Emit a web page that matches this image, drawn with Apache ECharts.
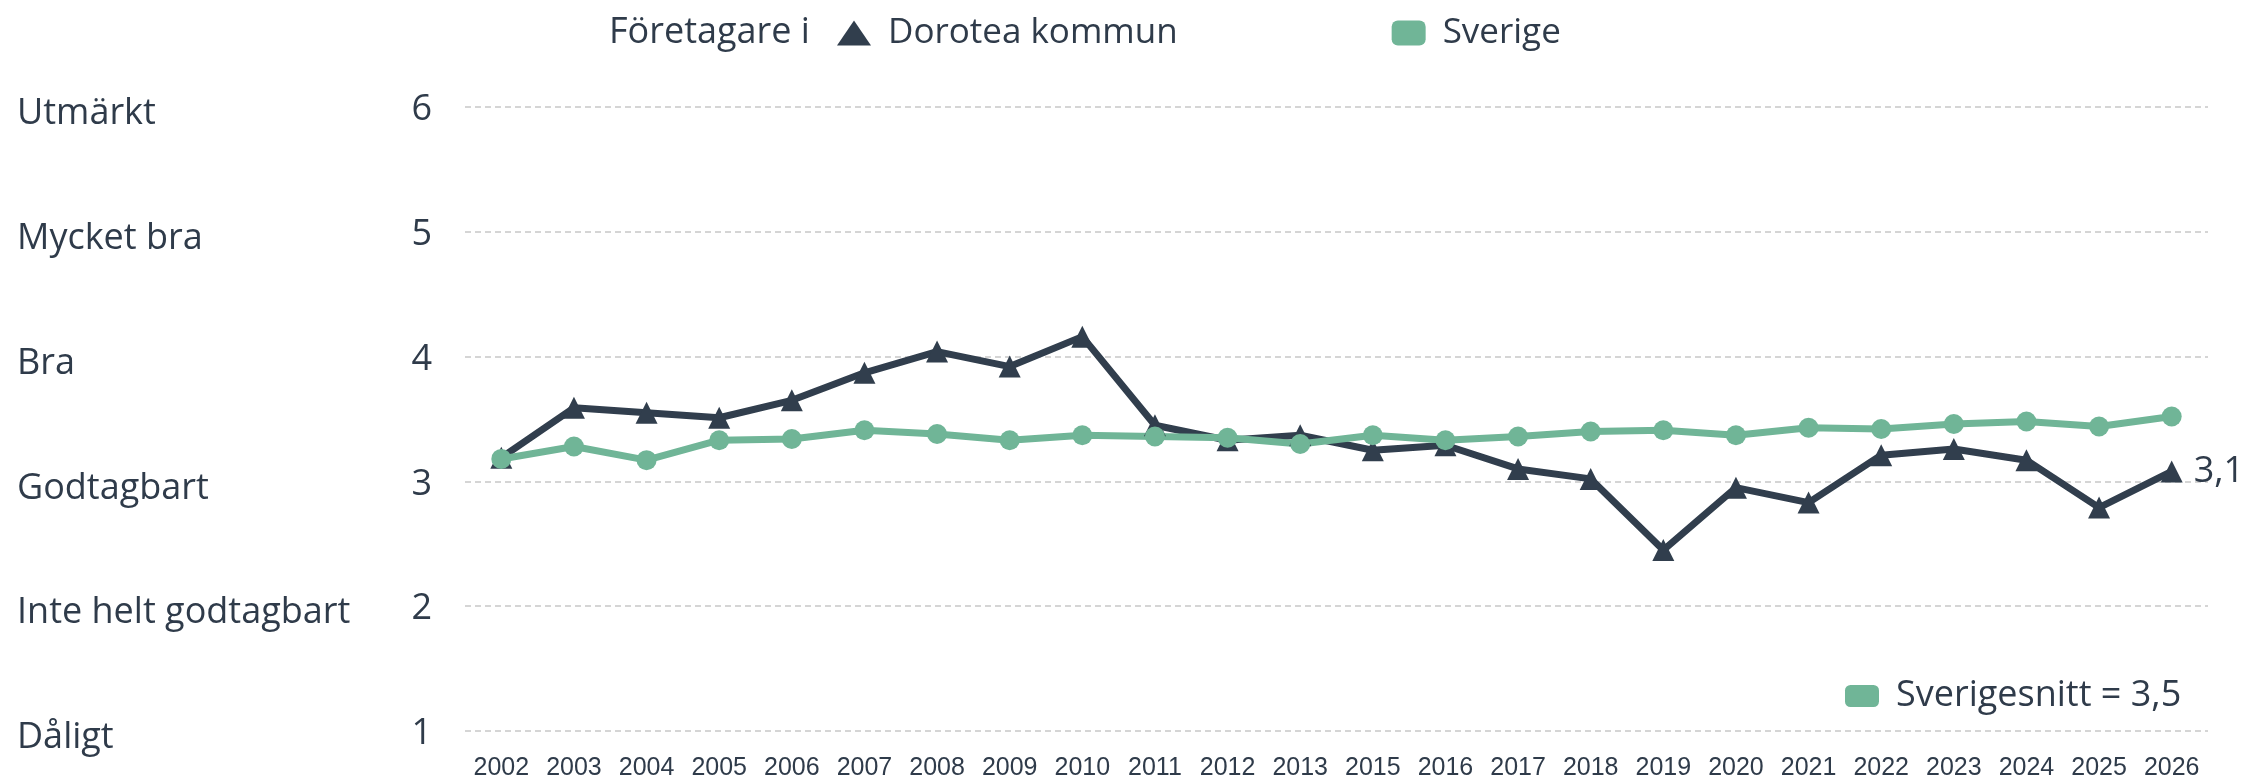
<!DOCTYPE html>
<html>
<head>
<meta charset="utf-8">
<script src="https://cdn.jsdelivr.net/npm/echarts@6/dist/echarts.min.js"></script>
<style>
  html, body { margin: 0; padding: 0; background: #fff; }
  #chart { width: 2252px; height: 781px; }
</style>
</head>
<body>
<div id="chart"></div>
<script>
// Data
const years = ['2002', '2003', '2004', '2005', '2006', '2007', '2008', '2009', '2010', '2011', '2012', '2013',
  '2015', '2016', '2017', '2018', '2019', '2020', '2021', '2022', '2023', '2024', '2025', '2026'];
const dorotea = [3.19, 3.59, 3.55, 3.51, 3.65, 3.87, 4.04, 3.92, 4.16, 3.45, 3.33, 3.37,
  3.25, 3.29, 3.10, 3.02, 2.45, 2.95, 2.83, 3.21, 3.26, 3.17, 2.79, 3.08];
const sverige = [3.18, 3.28, 3.17, 3.33, 3.34, 3.41, 3.38, 3.33, 3.37, 3.36, 3.35, 3.30,
  3.37, 3.33, 3.36, 3.40, 3.41, 3.37, 3.43, 3.42, 3.46, 3.48, 3.44, 3.52];
const scaleNames = ['Dåligt', 'Inte helt godtagbart', 'Godtagbart', 'Bra', 'Mycket bra', 'Utmärkt'];
const sverigesnitt = 3.5;

const dark = '#313e4d';
const green = '#70b597';
const textColor = '#2f3b4a';
const font = '"Open Sans", sans-serif';

const fmt = v => v.toFixed(1).replace('.', ',');
const snittName = 'Sverigesnitt = ' + fmt(sverigesnitt);

const chart = echarts.init(document.getElementById('chart'));

const option = {
  animation: false,
  title: {
    text: 'Företagare i',
    left: 609,
    top: 14,
    padding: 0,
    textStyle: { fontFamily: font, fontSize: 36, fontWeight: 'normal', color: textColor, lineHeight: 38 }
  },
  legend: [
    {
      left: 837,
      top: 14,
      padding: 0,
      itemWidth: 34,
      itemHeight: 25,
      itemGap: 214,
      data: [
        { name: 'Dorotea kommun', icon: 'triangle' },
        { name: 'Sverige', icon: 'roundRect' }
      ],
      textStyle: { fontFamily: font, fontSize: 35, color: textColor, lineHeight: 38, padding: [0, 0, 0, 12] }
    },
    {
      left: 1845,
      top: 677,
      padding: 0,
      itemWidth: 34,
      itemHeight: 22,
      data: [{ name: snittName, icon: 'roundRect' }],
      textStyle: { fontFamily: font, fontSize: 36, color: textColor, lineHeight: 38, padding: [0, 0, 0, 12] }
    }
  ],
  grid: { left: 465, right: 44, top: 107, bottom: 44 },
  xAxis: {
    type: 'category',
    data: years,
    boundaryGap: true,
    axisLine: { show: false },
    axisTick: { show: false },
    axisLabel: {
      interval: 0,
      margin: 25,
      fontFamily: '"Liberation Sans", Arial, sans-serif',
      fontSize: 25,
      color: textColor
    }
  },
  yAxis: [
    {
      type: 'value',
      min: 1,
      max: 6,
      interval: 1,
      axisLine: { show: false },
      axisTick: { show: false },
      axisLabel: {
        margin: 33,
        formatter: v => '{n|' + v + '}',
        rich: { n: { fontFamily: font, fontSize: 36, color: textColor, padding: [6, 0, 0, 0] } }
      },
      splitLine: { lineStyle: { type: [6, 4], color: '#c8c8c8', width: 1.5 } }
    },
    {
      type: 'value',
      position: 'left',
      min: 1,
      max: 6,
      interval: 1,
      axisLine: { show: false },
      axisTick: { show: false },
      splitLine: { show: false },
      axisLabel: {
        margin: 448,
        align: 'left',
        formatter: v => '{s|' + scaleNames[v - 1] + '}',
        rich: { s: { fontFamily: font, fontSize: 36, color: textColor, padding: [14, 0, 0, 0] } }
      }
    }
  ],
  series: [
    {
      name: 'Dorotea kommun',
      type: 'line',
      data: dorotea,
      symbol: 'triangle',
      symbolSize: 22,
      showAllSymbol: true,
      color: dark,
      lineStyle: { width: 7, color: dark },
      itemStyle: { color: dark },
      endLabel: {
        show: true,
        distance: 22,
        formatter: p => fmt(p.value),
        fontFamily: font,
        fontSize: 36,
        color: textColor
      }
    },
    {
      name: 'Sverige',
      type: 'line',
      data: sverige,
      symbol: 'circle',
      symbolSize: 20,
      showAllSymbol: true,
      color: green,
      lineStyle: { width: 7, color: green },
      itemStyle: { color: green }
    },
    {
      name: snittName,
      type: 'line',
      data: [],
      color: green
    }
  ]
};

chart.setOption(option);
</script>
</body>
</html>
